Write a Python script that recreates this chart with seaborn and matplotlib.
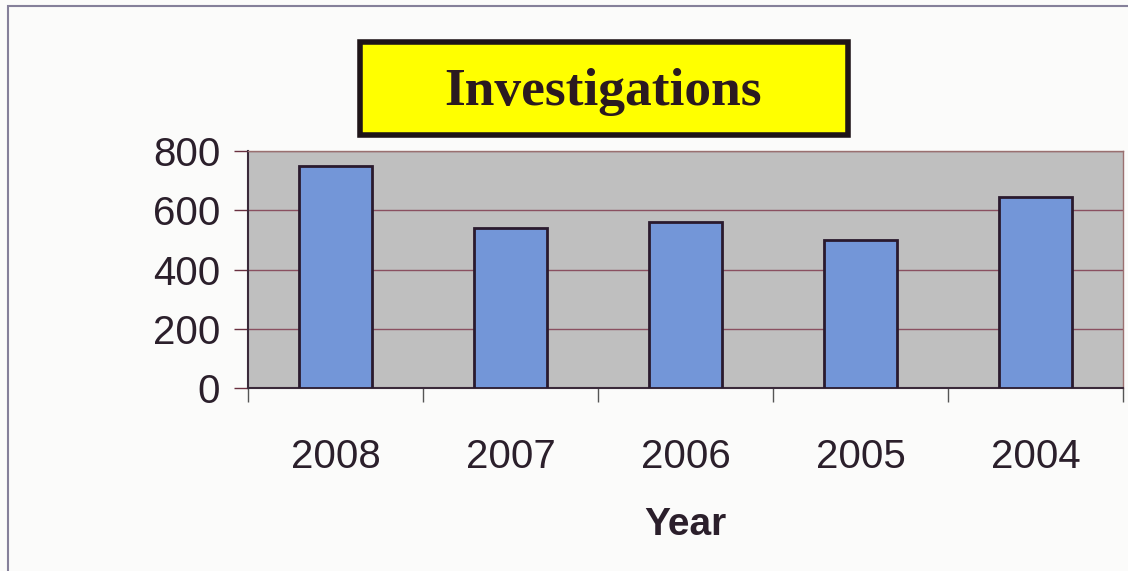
import numpy as np
import pandas as pd
import seaborn as sns
import matplotlib.pyplot as plt
from matplotlib.patches import Rectangle
from matplotlib.ticker import FixedLocator

years = ["2008", "2007", "2006", "2005", "2004"]
investigations = [750, 540, 560, 500, 645]
y_ticks = [0, 200, 400, 600, 800]

df = pd.DataFrame({"Year": years, "Investigations": investigations})

sns.set_theme(style="white")
plt.rcParams['font.family'] = ['Liberation Sans', 'DejaVu Sans']
text_color = "#2b1f2b"

fig = plt.figure(figsize=(11.28, 5.71), dpi=100)
fig.patch.set_facecolor("#fbfbfa")
ax = fig.add_axes([248 / 1128, 1 - 388 / 571, 875 / 1128, 237 / 571])
ax.set_facecolor("#bfbfbf")

sns.barplot(data=df, x="Year", y="Investigations", order=years, color="#7396d8",
            saturation=1, width=0.42, edgecolor="#2a1a2e", linewidth=2, ax=ax, zorder=3)

ax.set_ylim(0, 800)
ax.set_xlim(-0.5, len(years) - 0.5)
ax.set_yticks(y_ticks)
ax.yaxis.grid(True, color="#8a5060", linewidth=1, zorder=1)
ax.set_axisbelow(True)

# ticks at category boundaries on the x axis
ax.xaxis.set_minor_locator(FixedLocator(np.arange(-0.5, len(years), 1.0)))
ax.tick_params(axis="x", which="major", length=0, pad=36, labelsize=29, labelcolor=text_color)
ax.tick_params(axis="x", which="minor", length=10, width=1, color="#555555", bottom=True)
ax.tick_params(axis="y", length=10, width=1, color="#6a3040", left=True, pad=10,
               labelsize=29, labelcolor=text_color)

for side in ["top", "right"]:
    ax.spines[side].set_color("#9a7070")
    ax.spines[side].set_linewidth(1)
ax.spines["left"].set_color("#3a2a3a")
ax.spines["bottom"].set_color("#3a2a3a")
ax.spines["left"].set_linewidth(1.5)
ax.spines["bottom"].set_linewidth(1.5)

ax.set_ylabel("")
ax.set_xlabel("Year", fontsize=28, fontweight="bold", color=text_color, labelpad=22)

# outer chart border
fig.patches.append(Rectangle((8 / 1128, -0.1), 1.2, 1 - 6 / 571 + 0.1, transform=fig.transFigure,
                             fill=False, edgecolor="#85809a", linewidth=1.5))

# yellow title box
fig.patches.append(Rectangle((360 / 1128, 1 - 135 / 571), 488 / 1128, 93 / 571,
                             transform=fig.transFigure, facecolor="#ffff00",
                             edgecolor="#1e1418", linewidth=4, zorder=5))
fig.text(603 / 1128, 1 - 92 / 571, "Investigations", ha="center", va="center",
         fontsize=38.5, fontweight="bold", family=["Liberation Serif", "DejaVu Serif"],
         color="#2b1a20", zorder=6)

fig.savefig("out.png", dpi=100, facecolor=fig.get_facecolor())
